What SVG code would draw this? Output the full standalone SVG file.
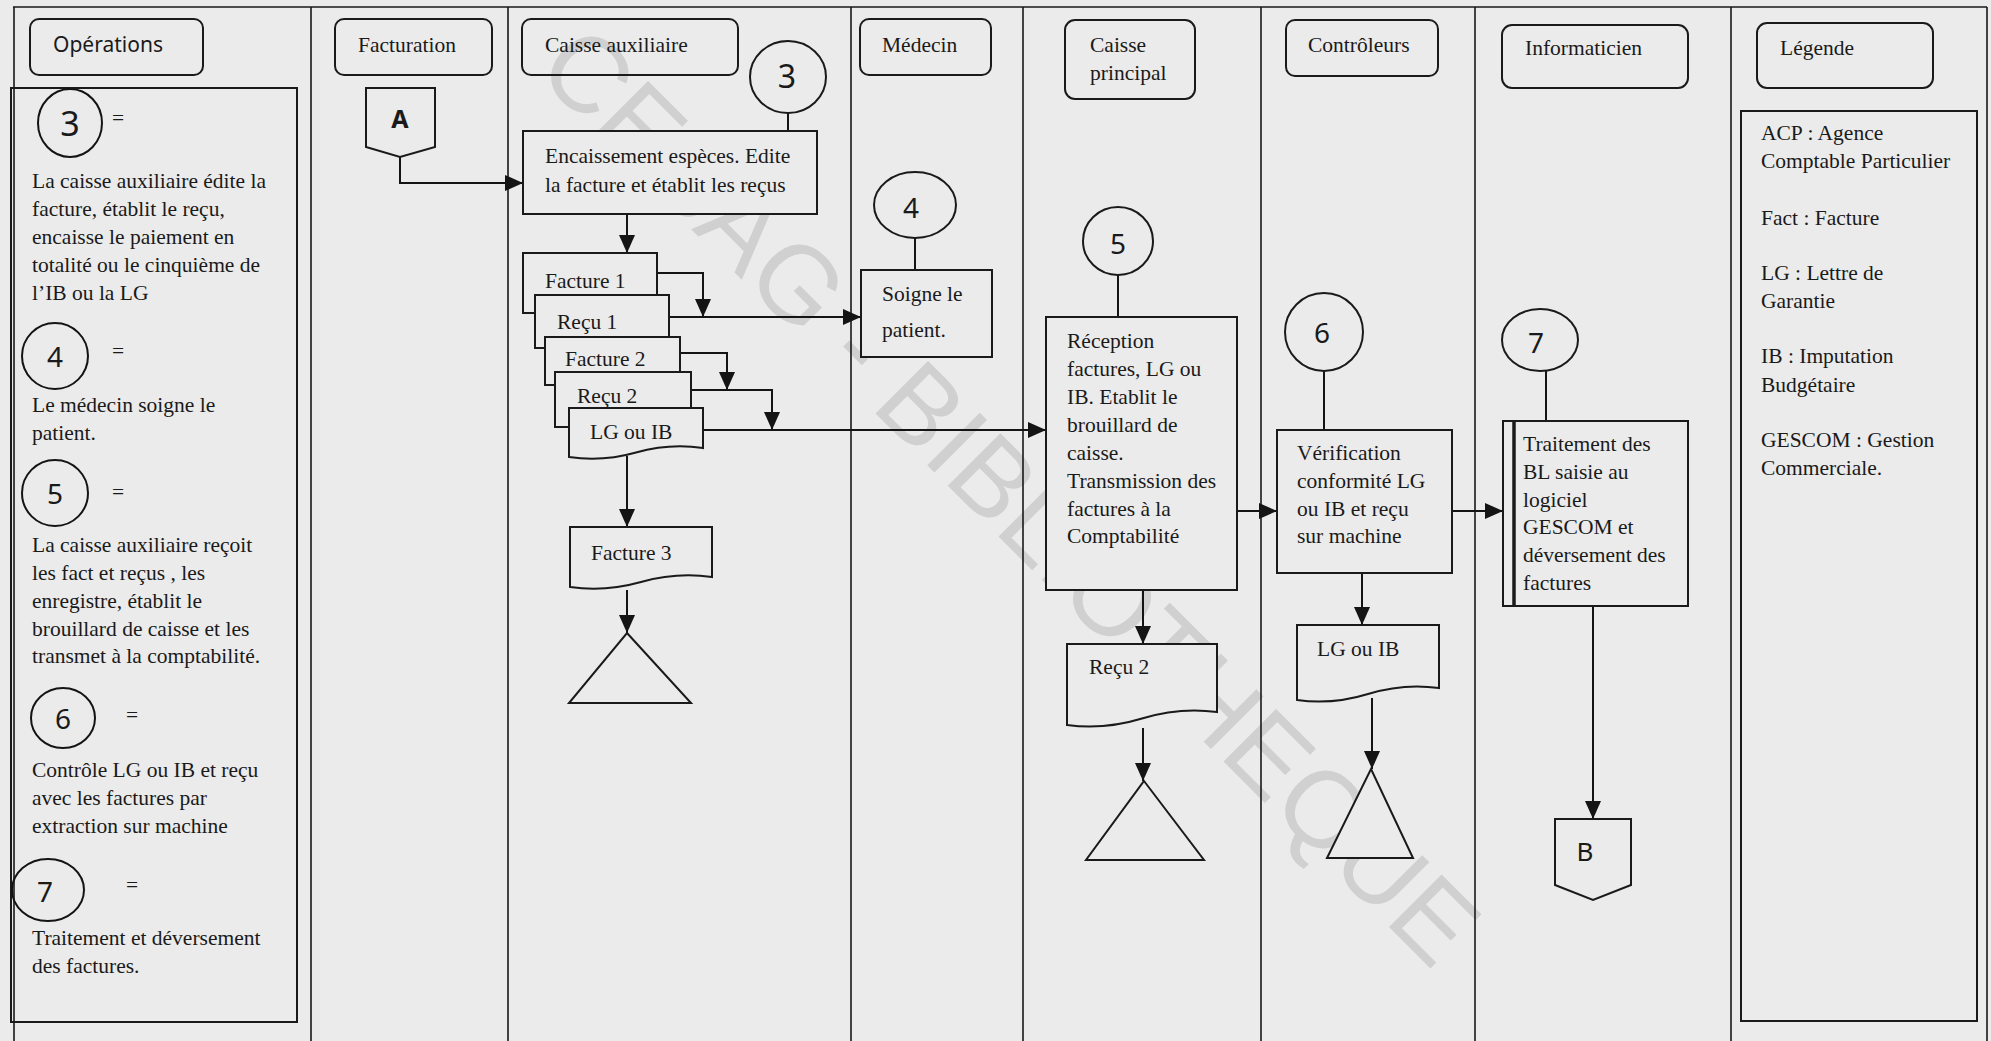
<svg xmlns="http://www.w3.org/2000/svg" width="1991" height="1041" viewBox="0 0 1991 1041">
<defs>
<marker id="ah" markerWidth="18" markerHeight="16" refX="18" refY="8" orient="auto" markerUnits="userSpaceOnUse"><path d="M0,0 L18,8 L0,16 z" fill="#141414"/></marker>
<style>
.t{font-family:"Liberation Serif","Times New Roman",serif;font-size:21.5px;fill:#1a1a1a}
.g{font-family:"Noto Sans","DejaVu Sans",sans-serif;fill:#1a1a1a}
.hdr{fill:none;stroke:#1a1a1a;stroke-width:2}
.box{fill:#ebebeb;stroke:#1a1a1a;stroke-width:2}
.ln{fill:none;stroke:#1a1a1a;stroke-width:1.6}
.cn{fill:none;stroke:#141414;stroke-width:2}
.ar{fill:none;stroke:#141414;stroke-width:2;marker-end:url(#ah)}
.wm{font-family:"Liberation Sans",Arial,sans-serif;font-size:108px;fill:#d0d0d0}
</style>
</defs>
<rect x="0" y="0" width="1991" height="1041" fill="#ebebeb"/>
<text class="wm" transform="translate(534,72) rotate(45)">CESAG - BIBLIOTHEQUE</text>

<g id="lanes">
<path class="ln" d="M13,7 H1987 M14,7 V1041 M311,7 V1041 M508,7 V1041 M851,7 V1041 M1023,7 V1041 M1261,7 V1041 M1475,7 V1041 M1731,7 V1041 M1987,7 V1041"/>
</g>

<g id="header-operations"><rect class="hdr" x="30" y="19" width="173" height="56" rx="9"/><text class="g" x="53" y="52" font-size="21">Opérations</text></g>
<g id="header-facturation"><rect class="hdr" x="335" y="19" width="157" height="56" rx="9"/><text class="t" x="358" y="52">Facturation</text></g>
<g id="header-caisse-aux"><rect class="hdr" x="522" y="19" width="216" height="56" rx="9"/><text class="t" x="545" y="52">Caisse auxiliaire</text></g>
<g id="header-medecin"><rect class="hdr" x="860" y="19" width="131" height="56" rx="9"/><text class="t" x="882" y="52">Médecin</text></g>
<g id="header-caisse-principal"><rect class="hdr" x="1065" y="20" width="130" height="79" rx="10"/><text class="t" x="1090" y="52">Caisse</text><text class="t" x="1090" y="80">principal</text></g>
<g id="header-controleurs"><rect class="hdr" x="1286" y="20" width="152" height="56" rx="9"/><text class="t" x="1308" y="52">Contrôleurs</text></g>
<g id="header-informaticien"><rect class="hdr" x="1502" y="25" width="186" height="63" rx="10"/><text class="t" x="1525" y="55">Informaticien</text></g>
<g id="header-legende"><rect class="hdr" x="1757" y="23" width="176" height="65" rx="10"/><text class="t" x="1780" y="55">Légende</text></g>

<g id="operations-box">
<rect class="hdr" x="11" y="88" width="286" height="934"/>
<ellipse class="cn" cx="70" cy="123" rx="32" ry="34"/><text class="g" x="70" y="136" font-size="34" text-anchor="middle">3</text>
<text class="t" x="112" y="125">=</text>
<text class="t" x="32" y="188">La caisse auxiliaire édite la</text>
<text class="t" x="32" y="216">facture, établit le reçu,</text>
<text class="t" x="32" y="244">encaisse le paiement en</text>
<text class="t" x="32" y="272">totalité ou le cinquième de</text>
<text class="t" x="32" y="300">l’IB ou la LG</text>
<circle class="cn" cx="55" cy="356" r="33"/><text class="g" x="55" y="367" font-size="28" text-anchor="middle">4</text>
<text class="t" x="112" y="358">=</text>
<text class="t" x="32" y="412">Le médecin soigne le</text>
<text class="t" x="32" y="440">patient.</text>
<circle class="cn" cx="55" cy="493" r="33"/><text class="g" x="55" y="504" font-size="28" text-anchor="middle">5</text>
<text class="t" x="112" y="499">=</text>
<text class="t" x="32" y="552">La caisse auxiliaire reçoit</text>
<text class="t" x="32" y="580">les fact et reçus , les</text>
<text class="t" x="32" y="608">enregistre, établit le</text>
<text class="t" x="32" y="636">brouillard de caisse et les</text>
<text class="t" x="32" y="663">transmet à la comptabilité.</text>
<ellipse class="cn" cx="63" cy="718" rx="32" ry="30"/><text class="g" x="63" y="729" font-size="28" text-anchor="middle">6</text>
<text class="t" x="126" y="722">=</text>
<text class="t" x="32" y="777">Contrôle LG ou IB et reçu</text>
<text class="t" x="32" y="805">avec les factures par</text>
<text class="t" x="32" y="833">extraction sur machine</text>
<ellipse class="cn" cx="48" cy="890" rx="36" ry="31"/><text class="g" x="45" y="902" font-size="28" text-anchor="middle">7</text>
<text class="t" x="126" y="892">=</text>
<text class="t" x="32" y="945">Traitement et déversement</text>
<text class="t" x="32" y="973">des factures.</text>
</g>

<g id="legende-box">
<rect class="hdr" x="1741" y="111" width="236" height="910"/>
<text class="t" x="1761" y="140">ACP : Agence</text>
<text class="t" x="1761" y="168">Comptable Particulier</text>
<text class="t" x="1761" y="225">Fact : Facture</text>
<text class="t" x="1761" y="280">LG : Lettre de</text>
<text class="t" x="1761" y="308">Garantie</text>
<text class="t" x="1761" y="363">IB : Imputation</text>
<text class="t" x="1761" y="392">Budgétaire</text>
<text class="t" x="1761" y="447">GESCOM : Gestion</text>
<text class="t" x="1761" y="475">Commerciale.</text>
</g>

<g id="connectors">
<path class="ar" d="M400,157 V183 H523"/>
<path class="cn" d="M788,113 V131"/>
<path class="ar" d="M627,214 V253"/>
<path class="ar" d="M657,273 H703 V317"/>
<path class="ar" d="M669,317 H861"/>
<path class="ar" d="M680,353 H727 V390"/>
<path class="ar" d="M691,390 H772 V430"/>
<path class="ar" d="M703,430 H1046"/>
<path class="ar" d="M627,456 V527"/>
<path class="ar" d="M627,590 V633"/>
<path class="cn" d="M915,238 V270"/>
<path class="cn" d="M1118,275 V317"/>
<path class="ar" d="M1237,511 H1277"/>
<path class="ar" d="M1143,590 V644"/>
<path class="ar" d="M1143,728 V781"/>
<path class="cn" d="M1324,371 V430"/>
<path class="ar" d="M1362,573 V625"/>
<path class="ar" d="M1372,698 V769"/>
<path class="ar" d="M1452,511 H1503"/>
<path class="cn" d="M1546,370 V421"/>
<path class="ar" d="M1593,606 V819"/>
</g>

<g id="connector-A"><path class="box" d="M366,88 H435 V147 L400,157 L366,147 Z"/><text class="g" x="400" y="128" font-size="25" font-weight="bold" text-anchor="middle">A</text></g>

<g id="circle-3"><ellipse class="box" cx="788" cy="77" rx="38" ry="36"/><text class="g" x="787" y="88" font-size="32" text-anchor="middle">3</text></g>
<g id="encaissement"><rect class="box" x="523" y="131" width="294" height="83"/><text class="t" x="545" y="163">Encaissement espèces. Edite</text><text class="t" x="545" y="192">la facture et établit les reçus</text></g>

<g id="facture-1"><rect class="box" x="523" y="253" width="134" height="60"/><text class="t" x="545" y="288">Facture 1</text></g>
<g id="recu-1"><rect class="box" x="535" y="295" width="134" height="53"/><text class="t" x="557" y="329">Reçu 1</text></g>
<g id="facture-2"><rect class="box" x="545" y="337" width="135" height="48"/><text class="t" x="565" y="366">Facture 2</text></g>
<g id="recu-2"><rect class="box" x="555" y="372" width="136" height="55"/><text class="t" x="577" y="403">Reçu 2</text></g>
<g id="lg-ib-1"><path class="box" d="M569,408 H703 V448 Q669.5,443 636,452.5 T569,457 Z"/><text class="t" x="590" y="439">LG ou IB</text></g>
<g id="facture-3"><path class="box" d="M570,527 H712 V577 Q676.5,572 641,582 T570,587 Z"/><text class="t" x="591" y="560">Facture 3</text></g>
<g id="archive-1"><path class="box" d="M627,633 L691,703 H569 Z"/></g>

<g id="circle-4"><ellipse class="box" cx="915" cy="205" rx="41" ry="33"/><text class="g" x="911" y="218" font-size="28" text-anchor="middle">4</text></g>
<g id="soigne"><rect class="box" x="861" y="270" width="131" height="87"/><text class="t" x="882" y="301">Soigne le</text><text class="t" x="882" y="337">patient.</text></g>

<g id="circle-5"><ellipse class="box" cx="1118" cy="241" rx="35" ry="34"/><text class="g" x="1118" y="254" font-size="28" text-anchor="middle">5</text></g>
<g id="reception"><rect class="box" x="1046" y="317" width="191" height="273"/>
<text class="t" x="1067" y="348">Réception</text>
<text class="t" x="1067" y="376">factures, LG ou</text>
<text class="t" x="1067" y="404">IB. Etablit le</text>
<text class="t" x="1067" y="432">brouillard de</text>
<text class="t" x="1067" y="460">caisse.</text>
<text class="t" x="1067" y="488">Transmission des</text>
<text class="t" x="1067" y="516">factures à la</text>
<text class="t" x="1067" y="543">Comptabilité</text></g>
<g id="recu-2-cp"><path class="box" d="M1067,644 H1217 V712 Q1179.5,707 1142,718.5 T1067,725 Z"/><text class="t" x="1089" y="674">Reçu 2</text></g>
<g id="archive-2"><path class="box" d="M1144,781 L1204,860 H1086 Z"/></g>

<g id="circle-6"><circle class="box" cx="1324" cy="332" r="39"/><text class="g" x="1322" y="343" font-size="28" text-anchor="middle">6</text></g>
<g id="verification"><rect class="box" x="1277" y="430" width="175" height="143"/>
<text class="t" x="1297" y="460">Vérification</text>
<text class="t" x="1297" y="488">conformité LG</text>
<text class="t" x="1297" y="516">ou IB et reçu</text>
<text class="t" x="1297" y="543">sur machine</text></g>
<g id="lg-ib-2"><path class="box" d="M1297,625 H1439 V688 Q1403.5,683 1368,694 T1297,700 Z"/><text class="t" x="1317" y="656">LG ou IB</text></g>
<g id="archive-3"><path class="box" d="M1371,769 L1413,858 H1327 Z"/></g>

<g id="circle-7"><ellipse class="box" cx="1540" cy="340" rx="38" ry="31"/><text class="g" x="1536" y="353" font-size="28" text-anchor="middle">7</text></g>
<g id="traitement"><rect class="box" x="1503" y="421" width="185" height="185"/><path d="M1514,421 V606" stroke="#1a1a1a" stroke-width="3.5"/>
<text class="t" x="1523" y="451">Traitement des</text>
<text class="t" x="1523" y="479">BL saisie au</text>
<text class="t" x="1523" y="507">logiciel</text>
<text class="t" x="1523" y="534">GESCOM et</text>
<text class="t" x="1523" y="562">déversement des</text>
<text class="t" x="1523" y="590">factures</text></g>
<g id="connector-B"><path class="box" d="M1555,819 H1631 V885 L1593,900 L1555,885 Z"/><text class="g" x="1585" y="861" font-size="26" text-anchor="middle">B</text></g>
</svg>
